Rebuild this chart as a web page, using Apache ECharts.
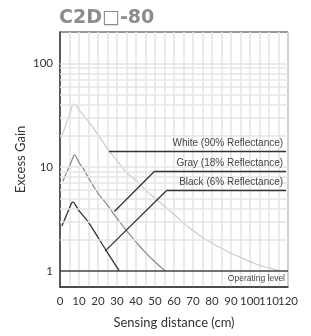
<!DOCTYPE html>
<html>
  <head>
    <meta charset="utf-8" />
    <script src="https://cdn.jsdelivr.net/npm/echarts@6/dist/echarts.min.js"></script>
    <style>
      html, body { margin: 0; padding: 0; background: #fff; }
    </style>
  </head>
  <body>
    <div id="main" style="width: 311px; height: 336px"></div>

    <script type="text/javascript">
      // curves (distance in cm, gain on log scale)
      const whiteDist = [0.5, 2, 4, 6, 7, 8, 10, 15, 20, 25, 30, 35, 40, 45, 50, 55, 60, 65, 70, 75, 80, 85, 90, 95, 100, 105, 110, 116];
      const whiteGain = [19, 22.5, 28.5, 36.5, 40.5, 40, 35.5, 27.5, 20.5, 15, 11.5, 8.9, 7.4, 6.0, 5.0, 4.2, 3.5, 2.9, 2.45, 2.1, 1.85, 1.65, 1.48, 1.35, 1.23, 1.13, 1.07, 1.0];

      const grayDist = [1.5, 3, 5, 7, 7.5, 8, 10, 12.5, 15, 20, 25, 30, 35, 40, 45, 50, 55.5];
      const grayGain = [7.3, 8.5, 10.2, 12.6, 13.1, 13, 11.1, 9.5, 7.9, 5.6, 4.3, 3.2, 2.45, 1.9, 1.5, 1.22, 1.0];

      const blackDist = [1, 2.5, 4, 5.5, 6.5, 7.5, 10, 12.5, 15, 20, 25, 31.2];
      const blackGain = [2.7, 3.15, 3.65, 4.25, 4.6, 4.5, 3.8, 3.35, 2.93, 2.1, 1.5, 1.0];

      // log grid lines
      const gainGrid = [2, 3, 4, 5, 6, 7, 8, 9, 10, 20, 30, 40, 50, 60, 70, 80, 90, 100];
      const majorTicks = [1, 10, 100];

      // leader lines for the labels: [diagonal start, knee, end]
      const whiteLeader = [[25.8, 14.1], [119, 14.1]];
      const grayLeader = [[28.6, 3.73], [49.6, 9.06], [119, 9.06]];
      const blackLeader = [[23.7, 1.55], [56.1, 5.94], [119, 5.94]];
      const labelTexts = ["White (90% Reflectance)", "Gray (18% Reflectance)", "Black (6% Reflectance)"];
      const operatingLevel = 1;

      function zip(xs, ys) {
        return xs.map((x, i) => [x, ys[i]]);
      }

      // one polyline -> markLine segments, label on the last one
      function leaderSegments(pts, text) {
        const segs = [];
        for (let i = 0; i < pts.length - 1; i++) {
          const last = i === pts.length - 2;
          segs.push([
            { coord: pts[i] },
            {
              coord: pts[i + 1],
              label: last
                ? { show: true, position: "insideEndTop", formatter: text, distance: 3 }
                : { show: false },
            },
          ]);
        }
        return segs;
      }

      const font = "Lato, 'Liberation Sans', sans-serif";

      var option = {
        animation: false,
        title: {
          text: "C2D\u25A1-80",
          left: 54,
          top: 4,
          textStyle: { fontSize: 19, fontWeight: "bold", color: "#8c8c8c", fontFamily: "'DejaVu Sans', sans-serif" },
        },
        grid: {
          left: 60,
          right: 23,
          top: 32,
          bottom: 49,
          show: true,
          borderColor: "#333",
          borderWidth: 1,
        },
        xAxis: {
          type: "value",
          min: 0,
          max: 120,
          interval: 5,
          name: "Sensing distance (cm)",
          nameLocation: "middle",
          nameGap: 29,
          nameTextStyle: { fontSize: 13, color: "#333", fontFamily: font },
          axisLine: { show: true, lineStyle: { color: "#333", width: 1.5 } },
          axisTick: { show: false },
          axisLabel: {
            margin: 8,
            fontSize: 11.5,
            color: "#333",
            fontFamily: font,
            formatter: (v) => (v % 10 === 0 ? String(v) : ""),
          },
          splitLine: { show: true, lineStyle: { color: "#e4e4e4", width: 1.5 } },
        },
        yAxis: {
          type: "log",
          logBase: 10,
          min: 0.7,
          max: 200,
          name: "Excess Gain",
          nameLocation: "middle",
          nameGap: 33,
          nameMoveOverlap: false,
          nameTextStyle: { fontSize: 13, color: "#333", fontFamily: font },
          axisLine: { show: true, lineStyle: { color: "#333", width: 1.5 } },
          axisTick: { show: false },
          splitLine: { show: false },
          axisLabel: {
            margin: 7,
            fontSize: 11.5,
            color: "#333",
            fontFamily: font,
            formatter: (v) => {
              const hit = majorTicks.find((t) => Math.abs(t - v) / t < 1e-6);
              return hit ? String(hit) : "";
            },
          },
        },
        series: [
          {
            name: "grid",
            type: "line",
            data: [],
            silent: true,
            z: 0,
            markLine: {
              silent: true,
              symbol: ["none", "none"],
              label: { show: false },
              lineStyle: { color: "#e4e4e4", width: 1.5, type: "solid" },
              data: gainGrid.map((g) => ({ yAxis: g })),
            },
          },
          {
            name: "White",
            type: "line",
            data: zip(whiteDist, whiteGain),
            smooth: 0.4,
            showSymbol: false,
            lineStyle: { color: "#cccccc", width: 1.2 },
            z: 3,
          },
          {
            name: "Gray",
            type: "line",
            data: zip(grayDist, grayGain),
            smooth: 0.4,
            showSymbol: false,
            lineStyle: { color: "#8a8a8a", width: 1.2 },
            z: 3,
          },
          {
            name: "Black",
            type: "line",
            data: zip(blackDist, blackGain),
            smooth: 0.4,
            showSymbol: false,
            lineStyle: { color: "#333333", width: 1.3 },
            z: 3,
          },
          {
            name: "labels",
            type: "line",
            data: [],
            z: 4,
            markLine: {
              silent: true,
              symbol: ["none", "none"],
              lineStyle: { color: "#333", width: 1.3, type: "solid" },
              label: { color: "#444", fontSize: 10, fontFamily: "'Liberation Sans', Arial, sans-serif" },
              data: [
                ...leaderSegments(whiteLeader, labelTexts[0]),
                ...leaderSegments(grayLeader, labelTexts[1]),
                ...leaderSegments(blackLeader, labelTexts[2]),
                {
                  yAxis: operatingLevel,
                  lineStyle: { color: "#444", width: 1.5 },
                  label: {
                    show: true,
                    position: "insideEndBottom",
                    formatter: "Operating level",
                    fontSize: 8.5,
                    distance: 3,
                  },
                },
              ],
            },
          },
        ],
      };

      const chartContainer = document.getElementById("main");
      const myChart = echarts.init(chartContainer);
      myChart.setOption(option);
    </script>
  </body>
</html>
